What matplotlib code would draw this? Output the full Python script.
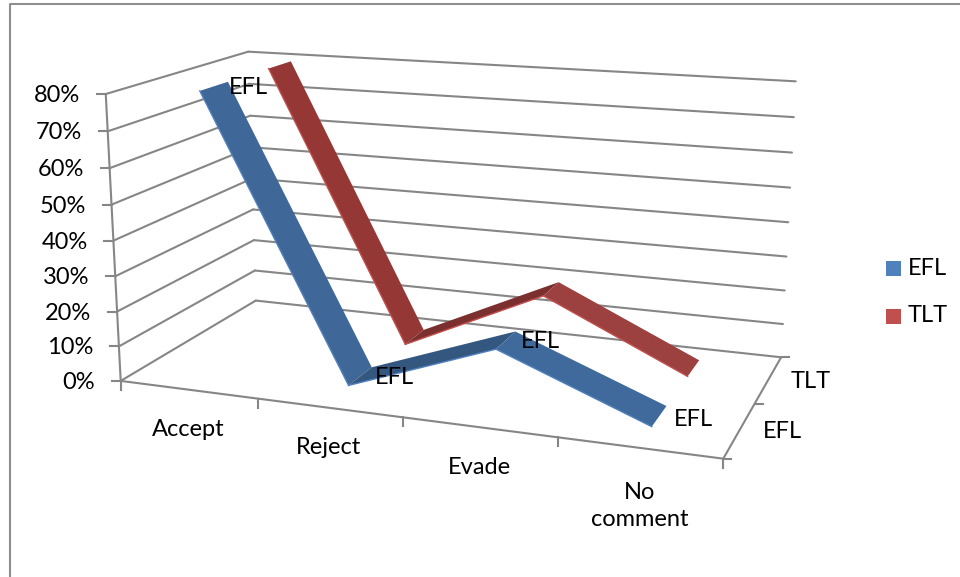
import numpy as np
import matplotlib
matplotlib.use("Agg")
import matplotlib.pyplot as plt
from matplotlib.patches import Polygon, Rectangle

plt.rcParams['font.family'] = ['Lato', 'DejaVu Sans']

categories = ['Accept', 'Reject', 'Evade', 'No\ncomment']
series_names = ['EFL', 'TLT']
efl_values = [80, 2, 17, 1]
tlt_values = [80, 1, 20, 1]
pct_ticks = [0, 10, 20, 30, 40, 50, 60, 70, 80]

BLUE = '#4F81BD'
RED = '#C0504D'
BLUE_FACES = ['#3F6797', '#34577F', '#416A9C']
RED_FACES = ['#953735', '#7B2F2E', '#9C413F']
GRID = '#868686'
FS = 17

# box corners as (category pos, depth, pct) -> where they sit in the picture
anchors = [
    ((0, 0, 0), (120.7, 380.7)),
    ((4, 0, 0), (723, 458)),
    ((4, 1, 0), (781, 357)),
    ((0, 1, 0), (255.7, 300.7)),
    ((0, 0, 80), (105.7, 94)),
    ((0, 1, 80), (248.3, 51.7)),
    ((4, 1, 80), (795.7, 81.3)),
    ((1, 0, 0), (257.7, 398)),
    ((2, 0, 0), (403, 418)),
    ((3, 0, 0), (558, 438)),
    ((4, 0.5, 0), (755, 404)),
]


def fit_projection(pts):
    rows, rhs = [], []
    for (x, y, z), (px, py) in pts:
        rows.append([x, y, z, 1, 0, 0, 0, 0, -px * x, -px * y, -px * z])
        rhs.append(px)
        rows.append([0, 0, 0, 0, x, y, z, 1, -py * x, -py * y, -py * z])
        rhs.append(py)
    sol = np.linalg.lstsq(np.array(rows, float), np.array(rhs, float), rcond=None)[0]
    return np.append(sol, 1).reshape(3, 4)


P = fit_projection(anchors)


def proj(x, y, z):
    a = P @ np.array([x, y, z, 1.0])
    return a[0] / a[2], a[1] / a[2]


fig = plt.figure(figsize=(9.6, 5.77), dpi=100)
ax = fig.add_axes([0, 0, 1, 1])
ax.set_xlim(0, 960)
ax.set_ylim(577, 0)
ax.axis('off')

# chart border, only the top and left show in the crop
ax.plot([9.5, 9.5, 960], [577, 4.3, 4.3], color='#8E8E8E', lw=1.5)


def seg(a, b):
    pa, pb = proj(*a), proj(*b)
    ax.plot([pa[0], pb[0]], [pa[1], pb[1]], color=GRID, lw=1.5, solid_capstyle='round')


# walls
for t in pct_ticks:
    seg((0, 0, t), (0, 1, t))
    seg((0, 1, t), (4, 1, t))
    fx, fy = proj(0, 0, t)
    ax.plot([fx - 9, fx], [fy, fy], color=GRID, lw=1.5)
    ax.text(fx - 25.5, fy + 1.5, f'{t}%', ha='right', va='center', fontsize=FS)
seg((0, 0, 0), (0, 0, 80))
seg((0, 0, 0), (4, 0, 0))
seg((4, 0, 0), (4, 1, 0))

# category and depth ticks
for i in range(5):
    fx, fy = proj(i, 0, 0)
    ax.plot([fx, fx], [fy, fy + 9], color=GRID, lw=1.5)
for d in [0, 0.5, 1]:
    fx, fy = proj(4, d, 0)
    ax.plot([fx, fx + 8], [fy, fy], color=GRID, lw=1.5)


def ribbon(vals, d0, d1, faces, edge, z):
    for i in range(len(vals) - 1):
        a = proj(i + 0.5, d0, vals[i])
        b = proj(i + 1.5, d0, vals[i + 1])
        c = proj(i + 1.5, d1, vals[i + 1])
        e = proj(i + 0.5, d1, vals[i])
        ax.add_patch(Polygon([a, b, c, e], closed=True, fc=faces[i], ec='none', zorder=z))
        ax.plot([a[0], b[0]], [a[1], b[1]], color=edge, lw=1.0, zorder=z + 0.1)


ribbon(tlt_values, 0.655, 0.835, RED_FACES, RED, 3)
ribbon(efl_values, 0.155, 0.35, BLUE_FACES, BLUE, 4)

# data labels (all read EFL in the source chart)
for px, py in [(248, 88), (394, 378), (540, 342), (693, 419)]:
    ax.text(px, py, series_names[0], ha='center', va='center', fontsize=FS, zorder=6)

# category labels
for (px, py), name in zip([(188, 430), (329, 448), (479, 468), (640, 506)], categories):
    ax.text(px, py, name, ha='center', va='center', fontsize=FS, linespacing=1.35)

# depth labels
ax.text(782, 432, series_names[0], ha='center', va='center', fontsize=FS)
ax.text(811, 381, series_names[1], ha='center', va='center', fontsize=FS)

# legend
for py, col, name in [(268.5, BLUE, series_names[0]), (316, RED, series_names[1])]:
    ax.add_patch(Rectangle((886, py - 7.5), 15, 15, fc=col, ec='none'))
    ax.text(908, py, name, va='center', fontsize=FS)

fig.savefig('out.png', dpi=100)
